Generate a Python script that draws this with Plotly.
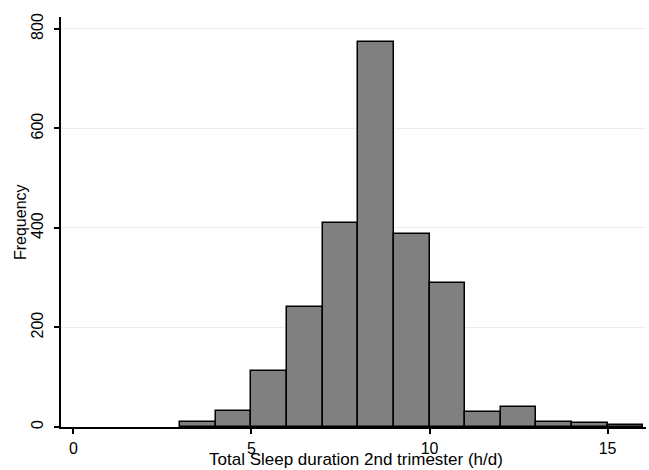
import plotly.graph_objects as go

bin_starts = [3, 4, 5, 6, 7, 8, 9, 10, 11, 12, 13, 14, 15]
counts = [11, 32, 112, 241, 411, 774, 387, 289, 31, 40, 11, 8, 4]
x_ticks = [0, 5, 10, 15]
y_ticks = [0, 200, 400, 600, 800]

FONT = "Liberation Sans"

fig = go.Figure()
fig.add_trace(go.Bar(
    x=bin_starts, y=counts, width=1, offset=0,
    marker=dict(color="#808080", line=dict(color="#000000", width=1.5)),
))

fig.update_layout(
    width=649, height=470,
    margin=dict(l=61, r=3, t=17, b=43, autoexpand=False),
    paper_bgcolor="white", plot_bgcolor="white",
    showlegend=False, bargap=0,
    font=dict(family=FONT, size=16, color="#000000"),
    annotations=[
        dict(text="Total Sleep duration 2nd trimester (h/d)", xref="paper", yref="paper",
             x=0.505, y=-0.08, xanchor="center", yanchor="middle", showarrow=False,
             font=dict(family=FONT, size=17, color="#000000")),
        dict(text="Frequency", xref="paper", yref="paper",
             x=-0.07, y=0.5, xanchor="center", yanchor="middle", showarrow=False,
             textangle=-90, font=dict(family=FONT, size=16, color="#000000")),
    ],
)
fig.update_xaxes(
    range=[-0.35, 16.08], tickvals=x_ticks, automargin=False,
    showgrid=False, zeroline=False,
    showline=True, linecolor="#000000", linewidth=1.5,
    ticks="outside", ticklen=5, tickcolor="#000000", tickwidth=1.5,
    ticklabelstandoff=1, tickfont=dict(size=16),
)
fig.update_yaxes(
    range=[0, 824], tickvals=y_ticks, tickangle=-90, automargin=False,
    showgrid=True, gridcolor="#ececec", gridwidth=1, zeroline=False,
    showline=True, linecolor="#000000", linewidth=1.5,
    ticks="outside", ticklen=5, tickcolor="#000000", tickwidth=1.5,
    ticklabelstandoff=5, tickfont=dict(size=16),
)

fig.write_html("out.html", config={"displayModeBar": False},
               post_script="document.body.style.margin='0';")
